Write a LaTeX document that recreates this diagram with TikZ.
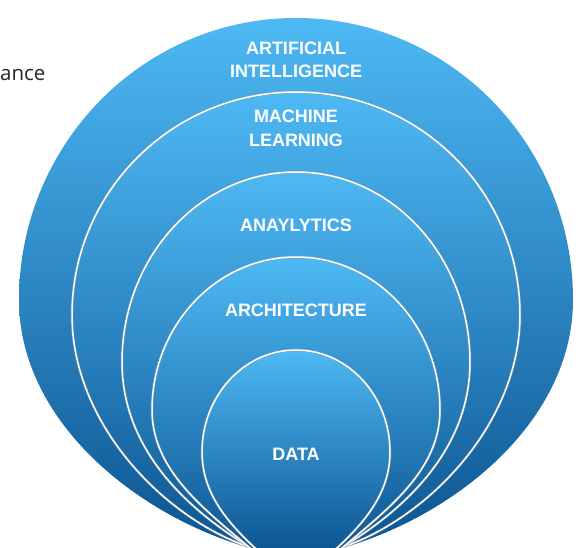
\documentclass[tikz,border=0pt]{standalone}
\usepackage{fontspec}
\setmainfont{Liberation Sans}
\newfontfamily\labelfont{Liberation Sans}
\newfontfamily\captionfont{Open Sans}

\definecolor{skytop}{HTML}{4EB9F4}
\definecolor{skybot}{HTML}{0A5390}

% Layer outline, symmetric about x = 296:
% #1 top y, #2 half width, #3 y of widest point, #4 y of first control,
% #5/#6 second control (offset, y), #7 offset where the side meets y = 0
\newcommand\layerpath[7]{%
  ({296-#7-0.3*(#7-#5)},{-0.3*#6}) -- ({296-#7},0)
  .. controls ({296-#5},#6) and ({296-#2},#4) .. ({296-#2},#3)
  arc[start angle=180,end angle=0,x radius=#2pt,y radius={(#1-#3)*1pt}]
  .. controls ({296+#2},#4) and ({296+#5},#6) .. ({296+#7},0)
  -- ({296+#7+0.3*(#7-#5)},{-0.3*#6}) -- cycle}

\tikzset{
  layer/.style={top color=skytop, bottom color=skybot, draw=none},
  ringshadow/.style={draw=black!40, line width=2.8pt, draw opacity=0.45},
  ring/.style={draw=white, line width=1.5pt},
  tag/.style={text=white, inner sep=0pt, align=center,
    font=\labelfont\bfseries\fontsize{18}{23.5}\selectfont},
}

\begin{document}
\begin{tikzpicture}[x=1pt,y=1pt]
  \useasboundingbox (0,0) rectangle (581,548);
  \begin{scope}
    \clip (0,0) rectangle (581,548);
    % outer layer
    \shade[layer] \layerpath{530}{277}{248}{128}{161}{33}{46};
    % nested layers, each with a white rim
    \foreach \t/\r/\w/\a/\p/\q/\e in {456/224/233/123/130/28/44,
                                       376/174/186/96/105/36/45,
                                       291/144/138/78/92/39/46,
                                       198/94/96/56/70/27/41}{
      \shade[layer] \layerpath{\t}{\r}{\w}{\a}{\p}{\q}{\e};
      \path[ringshadow] \layerpath{\t}{\r}{\w}{\a}{\p}{\q}{\e};
      \path[ring] \layerpath{\t}{\r}{\w}{\a}{\p}{\q}{\e};
    }
  \end{scope}

  \node[tag] (ai)   at (296,488) {ARTIFICIAL\\INTELLIGENCE};
  \node[tag] (ml)   at (296,419.5) {MACHINE\\LEARNING};
  \node[tag] (an)   at (296,323) {ANAYLYTICS};
  \node[tag] (arch) at (296,238) {ARCHITECTURE};
  \node[tag] (data) at (296,94) {DATA};

  \node[anchor=base west, inner sep=0pt, text=black!85,
        font=\captionfont\fontsize{20.5}{24}\selectfont] (gov) at (0,467) {ance};
\end{tikzpicture}
\end{document}
